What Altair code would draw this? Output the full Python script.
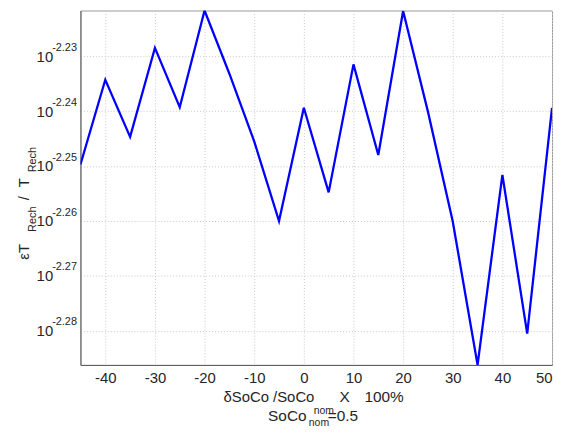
import altair as alt
import pandas as pd

# x: relative change of SoCo in %
x_vals = [-45, -40, -35, -30, -25, -20, -15, -10, -5, 0, 5, 10, 15, 20, 25, 30, 35, 40, 45, 50]
# log10 of eps T_Rech / T_Rech
log_vals = [-2.2497, -2.2343, -2.2447, -2.2285, -2.2393, -2.2217, -2.2332, -2.2455, -2.2600, -2.2394,
            -2.2548, -2.2315, -2.2480, -2.2218, -2.2401, -2.2601, -2.2862, -2.2516, -2.2805, -2.2394]
x_ticks = [-40, -30, -20, -10, 0, 10, 20, 30, 40, 50]
y_tick_exps = [-2.23, -2.24, -2.25, -2.26, -2.27, -2.28]
y_tick_labels = ["-2.23", "-2.24", "-2.25", "-2.26", "-2.27", "-2.28"]

FONT = "Liberation Sans"
TXT = "#262626"

df = pd.DataFrame({"x": x_vals, "e": log_vals})
ticks_df = pd.DataFrame({"e": y_tick_exps, "lab": y_tick_labels})

ydom = [10 ** min(log_vals), 10 ** max(log_vals)]
yscale = alt.Scale(type="log", domain=ydom, nice=False, zero=False)
xscale = alt.Scale(domain=[-45, 50], nice=False, zero=False)

line = alt.Chart(df).transform_calculate(v="pow(10, datum.e)").mark_line(
    color="#0000ff", strokeWidth=2.3, clip=True
).encode(
    x=alt.X("x:Q", scale=xscale, axis=alt.Axis(
        values=x_ticks, labelExpr="'' + datum.value", title=None, grid=True, ticks=False,
        labelPadding=6, labelFontSize=15, labelFont=FONT, labelColor=TXT,
        domainColor="#5a5a5a", gridColor="#c8c8c8", gridDash=[1, 2], gridWidth=1)),
    y=alt.Y("v:Q", scale=yscale, axis=alt.Axis(
        values=[10 ** t for t in y_tick_exps], labelExpr="'10'", title=None, grid=True,
        ticks=False, labelPadding=28, labelFontSize=15, labelFont=FONT, labelColor=TXT,
        labelBaseline="middle",
        domainColor="#5a5a5a", gridColor="#c8c8c8", gridDash=[1, 2], gridWidth=1)),
)

exps = alt.Chart(ticks_df).transform_calculate(v="pow(10, datum.e)").mark_text(
    align="right", baseline="middle", fontSize=11, font=FONT, color=TXT, dy=-8.5
).encode(
    x=alt.value(-3.5),
    y=alt.Y("v:Q", scale=yscale),
    text="lab:N",
)

one = pd.DataFrame({"a": [0]})


def piece(text, px, py, size, angle=0):
    kw = dict(text=text, align="left", baseline="alphabetic", fontSize=size, font=FONT, color=TXT)
    if angle:
        kw["angle"] = angle
    return alt.Chart(one).mark_text(**kw).encode(x=alt.value(px), y=alt.value(py))


labels = [
    # x title
    piece("\u03b4SoCo /SoCo", 144, 394, 15),
    piece("nom", 235, 406, 10.5),
    piece("X", 261, 394, 15.5),
    piece("100%", 286, 394, 15.5),
    piece("SoCo", 189, 413, 15.5),
    piece("nom", 230, 419, 10.5),
    piece("=0.5", 249, 413, 15.5),
    # y title (rotated)
    piece("\u03b5T", -52, 251, 15, 270),
    piece("Rech", -45, 223, 11, 270),
    piece("/", -52, 191, 15, 270),
    piece("T", -52, 178, 15, 270),
    piece("Rech", -45, 163, 11, 270),
]

chart = alt.layer(line, exps, *labels).properties(
    width=475, height=357,
    autosize=alt.AutoSizeParams(type="none"),
    padding={"left": 73, "top": 1, "right": 4, "bottom": 63},
).configure_view(stroke="#9a9a9a", strokeWidth=1)

chart.save("out.html", embed_options={"renderer": "svg", "actions": False})
